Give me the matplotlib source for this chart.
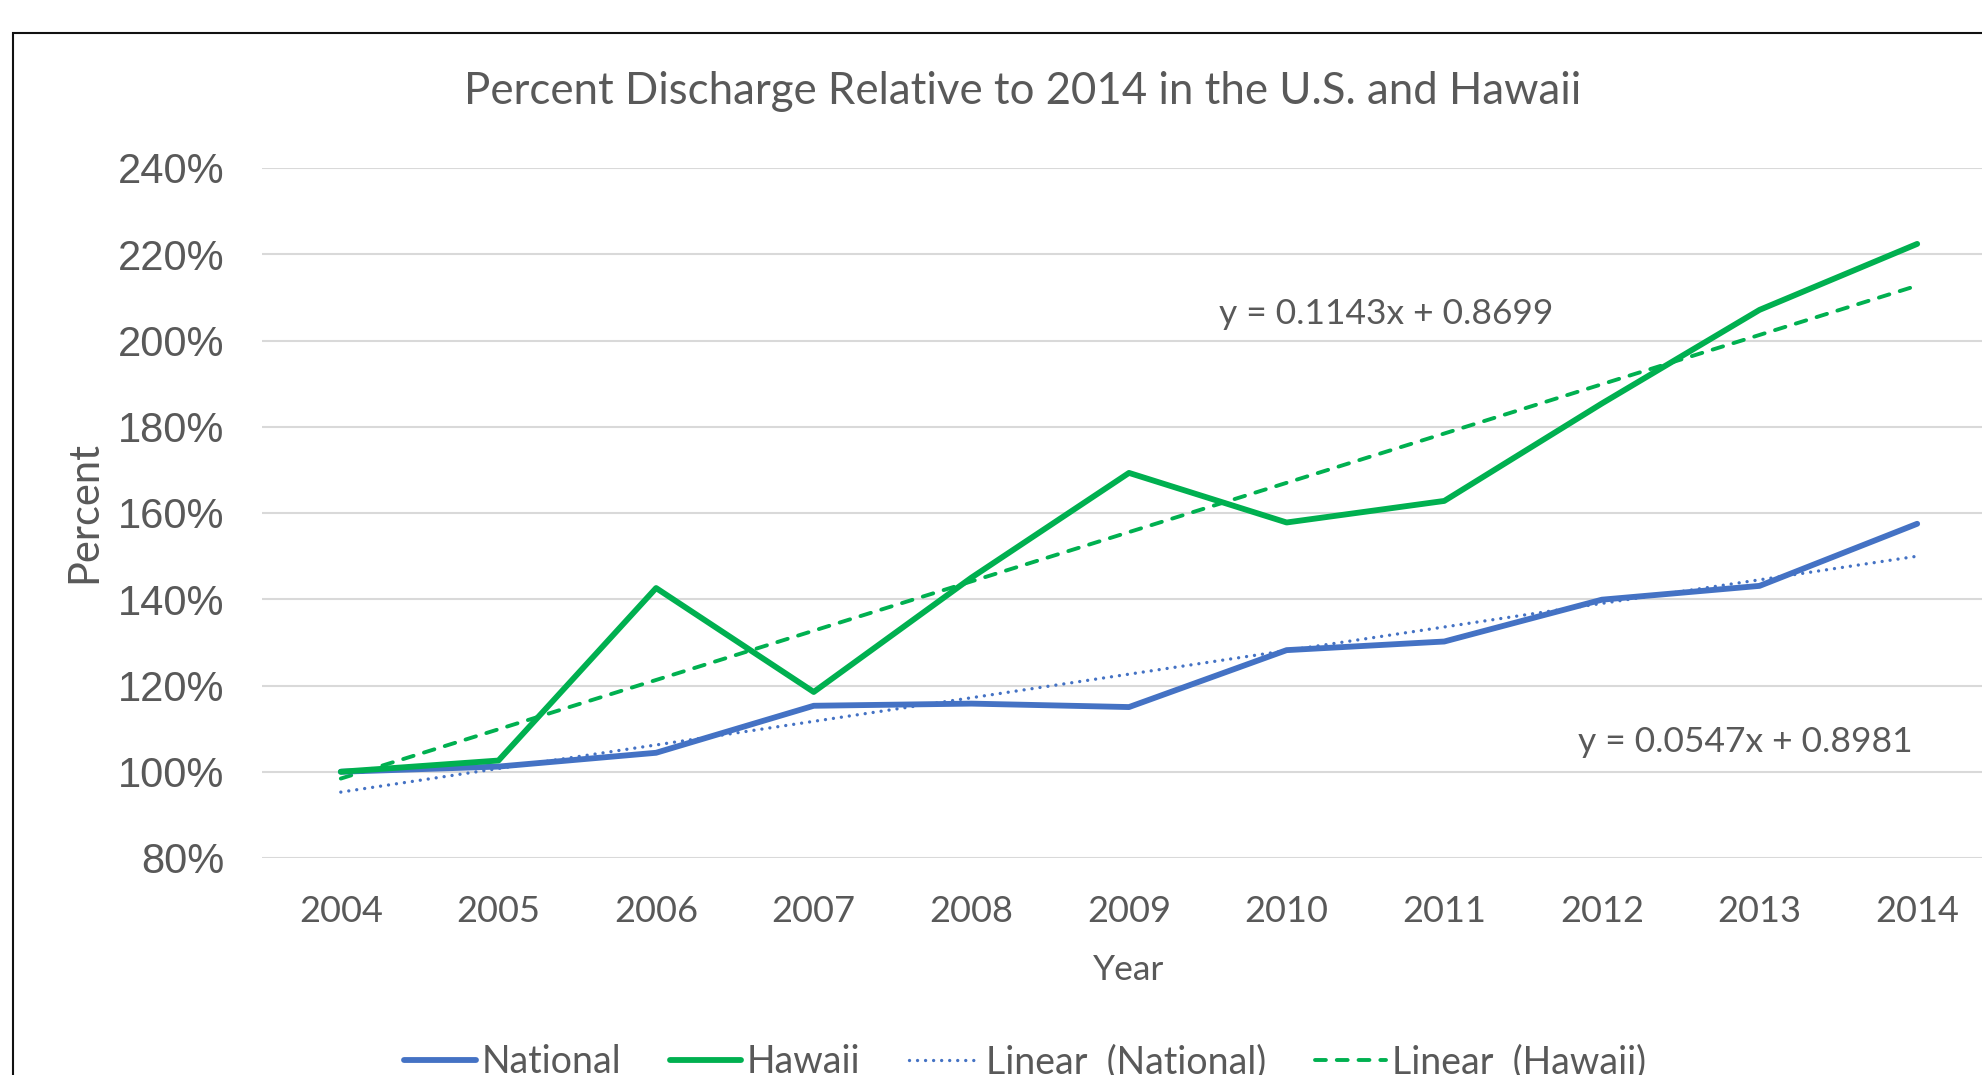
import matplotlib
matplotlib.use('Agg')
import matplotlib.pyplot as plt
from matplotlib.ticker import PercentFormatter
from matplotlib.patches import Rectangle

# data
years = ['2004', '2005', '2006', '2007', '2008', '2009', '2010', '2011', '2012', '2013', '2014']
national = [1.000, 1.012, 1.044, 1.153, 1.158, 1.150, 1.282, 1.302, 1.399, 1.431, 1.575]
hawaii = [1.000, 1.026, 1.426, 1.185, 1.450, 1.693, 1.578, 1.628, 1.854, 2.071, 2.224]

# trendline coefficients as printed on the chart (x = 1..11)
nat_slope, nat_icpt = 0.0547, 0.8981
haw_slope, haw_icpt = 0.1143, 0.8699

blue = '#4472C4'
green = '#00B050'
grey = '#595959'

W, H = 1982, 1075
fig = plt.figure(figsize=(W / 100, H / 100), dpi=100)

# chart border (runs off the right and bottom edges)
fig.patches.append(Rectangle((13 / W, -0.1), 1.2, (H - 33) / H + 0.1,
                             transform=fig.transFigure, fill=False,
                             ec='#111111', lw=1.5))

ax = fig.add_axes([262 / W, 1 - 858 / H, (1996 - 262) / W, 690 / H])
xs = list(range(len(years)))

ax.plot(xs, national, color=blue, lw=4.2, solid_capstyle='round',
        solid_joinstyle='round', label='National', zorder=4)
ax.plot(xs, hawaii, color=green, lw=4.2, solid_capstyle='round',
        solid_joinstyle='round', label='Hawaii', zorder=4)

nat_trend = [nat_slope * (i + 1) + nat_icpt for i in xs]
haw_trend = [haw_slope * (i + 1) + haw_icpt for i in xs]
ax.plot(xs, nat_trend, color=blue, lw=2.4, linestyle=(0, (0.01, 2.4)),
        dash_capstyle='round', label='Linear  (National)', zorder=3)
ax.plot(xs, haw_trend, color=green, lw=2.8, linestyle=(0, (2.8, 2.8)),
        dash_capstyle='round', label='Linear  (Hawaii)', zorder=3)

ax.set_xlim(-0.5, 10.5)
ax.set_ylim(0.8, 2.4)
ax.set_yticks([0.8 + 0.2 * i for i in range(9)])
ax.yaxis.set_major_formatter(PercentFormatter(xmax=1, decimals=0))
ax.set_xticks(xs)
ax.set_xticklabels(years)
ax.grid(axis='y', color='#D9D9D9', lw=1.5)
ax.set_axisbelow(True)
for s in ax.spines.values():
    s.set_visible(False)
ax.tick_params(axis='both', length=0, colors=grey)
ax.tick_params(axis='y', pad=27)
ax.tick_params(axis='x', pad=27)
for lab in ax.get_yticklabels():
    lab.set_fontfamily('Liberation Sans')
    lab.set_fontsize(30)
for lab in ax.get_xticklabels():
    lab.set_fontfamily('Lato')
    lab.set_fontsize(26)

ax.text(6.63, 2.038, 'y = 0.1143x + 0.8699', ha='center', va='baseline',
        fontsize=25.5, family='Lato', color=grey)
ax.text(8.91, 1.046, 'y = 0.0547x + 0.8981', ha='center', va='baseline',
        fontsize=25.5, family='Lato', color=grey)

fig.text(1023 / W, 1 - 104 / H, 'Percent Discharge Relative to 2014 in the U.S. and Hawaii',
         ha='center', va='baseline', fontsize=31.5, family='Lato', color=grey)
fig.text(1129 / W, 1 - 980 / H, 'Year', ha='center', va='baseline',
         fontsize=25.5, family='Lato', color=grey)
fig.text(84 / W, 1 - 512 / H, 'Percent', ha='center', va='center', rotation=90,
         fontsize=30, family='Lato', color=grey)

leg = fig.legend(loc='center', bbox_to_anchor=(1025 / W, 1 - 1062 / H), ncol=4,
                 frameon=False, prop={'family': 'Lato', 'size': 27},
                 handlelength=1.9, handletextpad=0.15, columnspacing=1.3)
for t in leg.get_texts():
    t.set_color(grey)

fig.savefig('out.png', dpi=100)
